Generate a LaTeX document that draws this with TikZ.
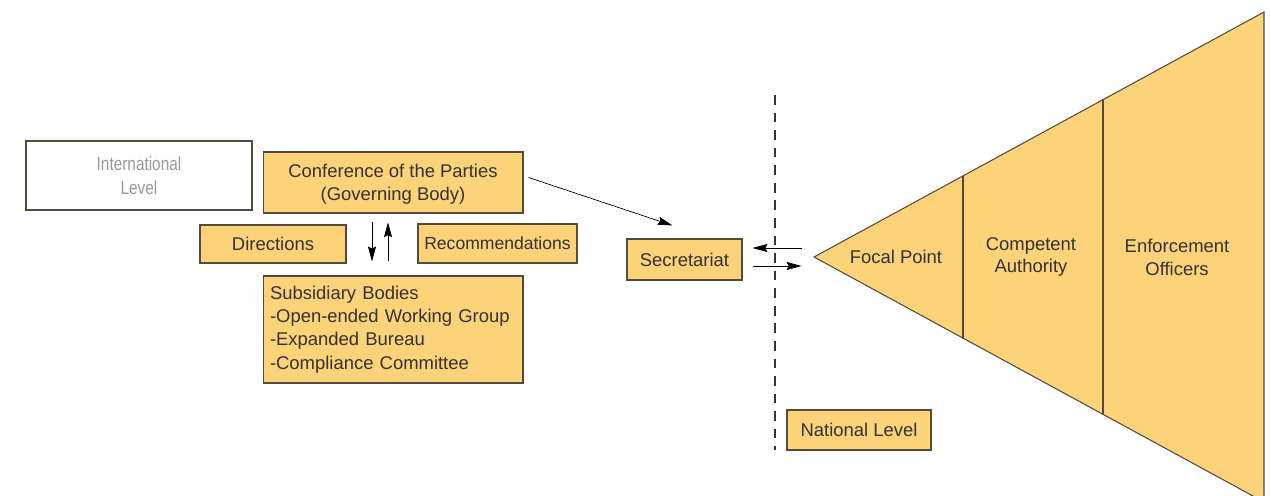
\documentclass[tikz,border=0pt]{standalone}
\usepackage{fontspec}
\setmainfont{Liberation Sans}
\newfontfamily\narrowfont[FakeStretch=0.81]{Liberation Sans}
\usepackage{tikz}
\usetikzlibrary{calc}
\usetikzlibrary{arrows.meta}
\definecolor{boxfill}{RGB}{253,211,122}
\definecolor{boxline}{RGB}{85,75,60}
\definecolor{textgrey}{RGB}{50,50,50}
\tikzset{level box/.style={draw=boxline, fill=boxfill, inner sep=0, text=textgrey, line width=0.6pt,
    font=\fontsize{10.5}{13}\selectfont, align=center}}
\tikzset{plain box/.style={level box, fill=white, text=black!40, font=\narrowfont\fontsize{10.8}{13.5}\selectfont}}
\tikzset{wedge label/.style={text=textgrey, font=\fontsize{10.5}{13}\selectfont, align=center}}

\begin{document}
\begin{tikzpicture}[x=0.02cm, y=-0.02cm, >={Stealth[length=8.5pt,width=4.6pt,inset=1.2pt]}]
  \useasboundingbox (0,0) rectangle (1271,495);
  \clip (0,0) rectangle (1271,495);

  % international level
  \node[plain box, minimum width=4.52cm, minimum height=1.38cm] at (139, 175.5) (intl) {International\\Level};
  \node[level box, minimum width=5.2cm, minimum height=1.22cm, text depth=-0.1cm] at (393, 182.5) (cop) {Conference of the Parties\\(Governing Body)};
  \node[level box, minimum width=2.92cm, minimum height=0.76cm] at (273, 244) (dir) {Directions};
  \node[level box, minimum width=3.18cm, minimum height=0.78cm, font=\fontsize{10}{13}\selectfont] at (497.5, 243.5) (rec) {Recommendations};
  \node[level box, minimum width=5.2cm, minimum height=2.14cm, align=left, text width=4.92cm, inner xsep=0.14cm,
    font=\fontsize{10.5}{13.3}\selectfont] at (393, 329.5) (sub)
    {Subsidiary Bodies\\-Open-ended Working Group\\-Expanded Bureau\\-Compliance Committee};
  \draw[->, shorten <=5, shorten >=8] ([xshift=-0.42cm]cop.south) -- ([xshift=-0.42cm]sub.north);
  \draw[->, shorten <=8, shorten >=5] ([xshift=-0.1cm]sub.north) -- ([xshift=-0.1cm]cop.south);

  % secretariat
  \node[level box, minimum width=2.3cm, minimum height=0.82cm] at (684.5, 259.5) (sec) {Secretariat};
  \draw[->] ($(cop.east)+(5,-5)$) -- ($(sec.north)+(-12,-13)$);

  % border between the levels
  \coordinate (top) at (775, 95);
  \coordinate (bottom) at (775, 450);
  \draw[dashed, dash pattern=on 5.5pt off 4.5pt, line width=0.6pt, black!80] (top) -- (bottom);

  % national level
  \coordinate (apex) at (814, 257);
  \draw[->] ($(sec.east)+(59,-11.5)$) -- ($(sec.east)+(10,-11.5)$);
  \draw[->] ($(sec.east)+(10,6.5)$) -- ($(sec.east)+(59,6.5)$);
  \filldraw[fill=boxfill, draw=boxline, line width=0.6pt] (apex) -- (1264, 12) -- (1264, 502) -- cycle;
  \draw[boxline, line width=0.8pt] (963, 175.5) -- (963, 338.5);
  \draw[boxline, line width=0.8pt] (1103, 99) -- (1103, 415);
  \node[wedge label] at (896, 257) (focal) {Focal Point};
  \node[wedge label] at (1031, 257) (auth) {Competent\\Authority};
  \node[wedge label] at (1177, 257) (enf) {Enforcement\\Officers};
  \node[level box, minimum width=2.88cm, minimum height=0.8cm] at (859, 430) (nat) {National Level};
\end{tikzpicture}
\end{document}
